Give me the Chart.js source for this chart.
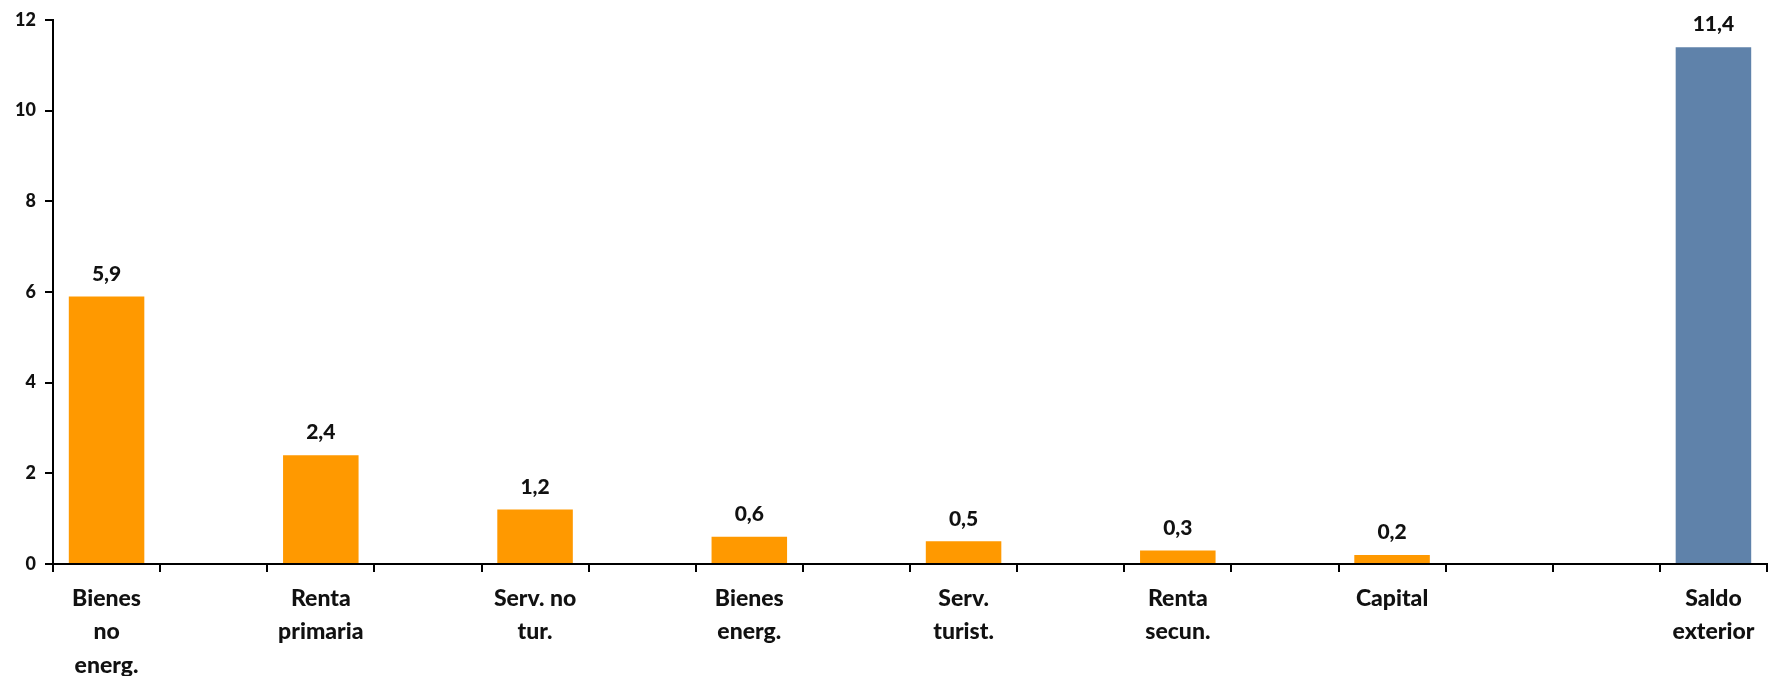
<html lang="es">
<head>
  <meta charset="UTF-8">
  <title>Saldo exterior</title>
  <script src="https://cdn.jsdelivr.net/npm/chart.js"></script>
  <style>
    html, body { margin: 0; padding: 0; background: #fff; }
    #wrap { width: 1768px; height: 676px; }
  </style>
</head>
<body>
  <div id="wrap"><canvas id="viz"></canvas></div>
  <script>
    // empty slots keep the gaps between bars
    const categories = [
      ['Bienes', 'no', 'energ.'], '', ['Renta', 'primaria'], '', ['Serv. no', 'tur.'], '',
      ['Bienes', 'energ.'], '', ['Serv.', 'turist.'], '', ['Renta', 'secun.'], '',
      'Capital', '', '', ['Saldo', 'exterior']
    ]
    const values = [5.9, null, 2.4, null, 1.2, null, 0.6, null, 0.5, null, 0.3, null, 0.2, null, null, 11.4]
    const yTicks = [0, 2, 4, 6, 8, 10, 12]
    const totalIndex = 15

    const orange = '#FF9900'
    const blue = '#5F82AA'
    const fontFamily = 'Lato, "Open Sans", sans-serif'

    const valueLabels = {
      id: 'valueLabels',
      afterDatasetsDraw(chart) {
        const ctx = chart.ctx
        const meta = chart.getDatasetMeta(0)
        ctx.save()
        ctx.fillStyle = '#111'
        ctx.font = '900 21px ' + fontFamily
        ctx.textAlign = 'center'
        ctx.textBaseline = 'bottom'
        meta.data.forEach((bar, i) => {
          const v = values[i]
          if (v === null) return
          ctx.fillText(v.toFixed(1).replace('.', ','), bar.x, bar.y - 12)
        })
        ctx.restore()
      }
    }

    const chart = new Chart(document.getElementById('viz'), {
      type: 'bar',
      data: {
        labels: categories,
        datasets: [{
          data: values,
          backgroundColor: (c) => c.dataIndex === totalIndex ? blue : orange,
          categoryPercentage: 1,
          barPercentage: 0.705
        }]
      },
      options: {
        responsive: true,
        maintainAspectRatio: false,
        animation: false,
        layout: { padding: { top: 20, right: 1, left: 0, bottom: 0 } },
        plugins: {
          legend: { display: false },
          tooltip: { enabled: false }
        },
        scales: {
          x: {
            offset: true,
            grid: {
              offset: true,
              drawOnChartArea: false,
              drawTicks: true,
              tickLength: 8,
              color: '#000',
              lineWidth: 2
            },
            border: { color: '#000', width: 2 },
            ticks: {
              color: '#111',
              font: { family: fontFamily, size: 23, weight: '900', lineHeight: 1.45 },
              padding: 10,
              maxRotation: 0,
              autoSkip: false
            },
            afterFit: (s) => { s.height = 112 }
          },
          y: {
            min: 0,
            max: 12,
            afterBuildTicks: (s) => { s.ticks = yTicks.map(v => ({ value: v })) },
            grid: {
              drawOnChartArea: false,
              drawTicks: true,
              tickLength: 8,
              color: '#000',
              lineWidth: 2
            },
            border: { color: '#000', width: 2 },
            ticks: {
              color: '#111',
              font: { family: fontFamily, size: 18, weight: '900' },
              padding: 9
            },
            afterFit: (s) => { s.width = 53 }
          }
        }
      },
      plugins: [valueLabels]
    })
  </script>
</body>
</html>
